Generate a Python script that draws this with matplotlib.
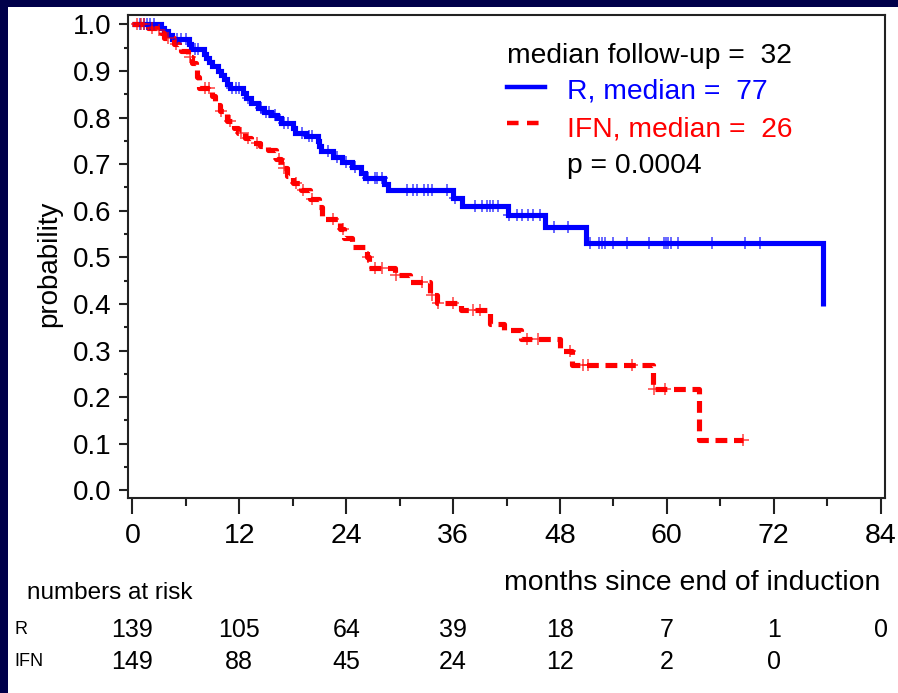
import numpy as np
import matplotlib
matplotlib.use("Agg")
import matplotlib.pyplot as plt
from matplotlib.patches import Rectangle
from matplotlib.ticker import MultipleLocator
from matplotlib.transforms import blended_transform_factory

# ---- Kaplan-Meier estimates (months, survival after each event) ----
r_event_t = [0, 3.2, 3.6, 4.0, 4.4, 6.3, 6.6, 8.0, 8.3, 8.6, 8.9, 9.6, 10.0, 10.3,
             10.6, 10.9, 12.4, 12.8, 13.3, 14.1, 14.8, 15.6, 16.2, 16.7, 18.0,
             18.2, 19.5, 20.8, 21.0, 21.2, 22.5, 23.5, 24.6, 25.7, 26.1, 28.2,
             28.7, 36.0, 37.0, 42.2, 46.3, 50.9, 77.5]
r_event_s = [1.0, 0.993, 0.986, 0.978, 0.968, 0.957, 0.946, 0.937, 0.928, 0.919,
             0.910, 0.900, 0.891, 0.882, 0.872, 0.864, 0.853, 0.841, 0.832, 0.821,
             0.811, 0.805, 0.799, 0.789, 0.778, 0.767, 0.760, 0.749, 0.738, 0.728,
             0.716, 0.704, 0.694, 0.681, 0.670, 0.657, 0.644, 0.628, 0.611, 0.591,
             0.565, 0.531, 0.396]
r_censor_t = [0.9, 1.3, 1.6, 2.0, 2.4, 5.0, 5.5, 6.0, 7.0, 7.4, 11.2, 11.6, 12.0,
              13.0, 14.4, 15.0, 15.3, 16.0, 17.0, 17.5, 19.0, 19.8, 20.2, 22.0,
              23.0, 24.0, 25.0, 26.5, 27.2, 27.5, 28.0, 30.8, 31.5, 31.9, 32.7,
              33.2, 33.6, 35.3, 36.2, 38.5, 39.2, 39.8, 40.1, 40.5, 41.0, 42.3,
              43.2, 43.7, 44.4, 45.0, 45.8, 47.3, 48.9, 51.4, 52.4, 52.7, 53.0,
              53.9, 55.5, 58.0, 59.7, 59.9, 60.1, 60.5, 61.2, 65.1, 68.8, 70.5]

ifn_event_t = [0, 1.7, 2.8, 3.2, 3.6, 4.7, 5.2, 5.5, 6.2, 6.7, 7.1, 7.3, 7.5, 8.9,
               9.3, 9.8, 10.6, 11.4, 11.8, 12.6, 13.3, 14.3, 15.2, 16.1, 16.7,
               17.3, 18.0, 18.9, 19.9, 20.9, 21.3, 23.3, 23.7, 24.6, 26.3, 26.6,
               29.5, 31.2, 33.4, 34.2, 36.9, 40.2, 41.7, 43.6, 48.0, 49.4, 58.4,
               63.6, 68.6]
ifn_event_s = [1.0, 0.992, 0.987, 0.982, 0.970, 0.957, 0.950, 0.943, 0.930, 0.918,
               0.907, 0.886, 0.864, 0.846, 0.826, 0.814, 0.792, 0.778, 0.767, 0.756,
               0.746, 0.738, 0.730, 0.710, 0.692, 0.674, 0.660, 0.645, 0.625, 0.607,
               0.583, 0.561, 0.541, 0.523, 0.500, 0.477, 0.462, 0.448, 0.420, 0.403,
               0.386, 0.358, 0.344, 0.324, 0.299, 0.269, 0.217, 0.109, 0.109]
ifn_censor_t = [0.5, 1.0, 1.3, 2.2, 3.0, 4.0, 4.9, 6.5, 8.2, 8.6, 10.0, 11.0, 12.2,
                13.0, 14.0, 16.4, 17.0, 18.4, 19.1, 20.2, 22.5, 23.6, 26.4, 27.2,
                28.0, 29.6, 32.5, 33.6, 34.3, 36.0, 38.2, 39.0, 44.3, 45.5, 49.1,
                50.6, 51.2, 56.1, 58.6, 59.8, 68.6]

# ---- numbers at risk ----
risk_times = [0, 12, 24, 36, 48, 60, 72, 84]
risk_r = ["139", "105", "64", "39", "18", "7", "1", "0"]
risk_ifn = ["149", "88", "45", "24", "12", "2", "0", ""]

legend_lines = ["median follow-up =  32", "R, median =  77",
                "IFN, median =  26", "p = 0.0004"]

BLUE = "#0000ff"
RED = "#ff0000"
NAVY = "#00004a"
W, H = 898, 693


def fx(x):
    return x / W


def fy(y):
    return 1 - y / H


def step_value(times, surv, t):
    idx = np.searchsorted(times, t, side="right") - 1
    return np.asarray(surv)[idx]


fig = plt.figure(figsize=(W / 100, H / 100), dpi=100)
fig.patch.set_facecolor(NAVY)
fig.add_artist(Rectangle((fx(8), 0), 1 - fx(8), fy(7), transform=fig.transFigure,
                         facecolor="white", edgecolor="none", zorder=-10))

ax = fig.add_axes([fx(127.7), fy(498.3), fx(885) - fx(127.7), fy(15) - fy(498.3)])
ax.set_xlim(-0.53, 84.49)
ax.set_ylim(-0.017, 1.020)

ax.plot(r_event_t, r_event_s, drawstyle="steps-post", color=BLUE, lw=3.7,
        solid_joinstyle="miter", solid_capstyle="butt", zorder=3)
ax.plot(ifn_event_t, ifn_event_s, drawstyle="steps-post", color=RED, lw=3.7,
        dashes=(2.3, 1.3), dash_capstyle="butt", zorder=3)

rc = np.array(r_censor_t)
ax.plot(rc, step_value(r_event_t, r_event_s, rc), ls="none", marker="+",
        ms=9, mew=1.1, color=BLUE, alpha=0.75, zorder=4)
ic = np.array(ifn_censor_t)
ax.plot(ic, step_value(ifn_event_t, ifn_event_s, ic), ls="none", marker="+",
        ms=9, mew=1.1, color=RED, alpha=0.75, zorder=4)

for s in ax.spines.values():
    s.set_linewidth(1.5)
    s.set_color("#222222")

ax.xaxis.set_major_locator(MultipleLocator(12))
ax.xaxis.set_minor_locator(MultipleLocator(6))
ax.yaxis.set_major_locator(MultipleLocator(0.1))
ax.yaxis.set_minor_locator(MultipleLocator(0.05))
ax.yaxis.set_major_formatter(matplotlib.ticker.FormatStrFormatter("%.1f"))

ax.tick_params(axis="x", which="major", length=11.5, width=1.5, pad=6,
               labelsize=20.5, color="#222222")
ax.tick_params(axis="x", which="minor", length=5.8, width=1.5, color="#222222")
ax.tick_params(axis="y", which="major", length=6.5, width=1.5, pad=5,
               labelsize=20, color="#222222")
ax.tick_params(axis="y", which="minor", length=3.2, width=1.5, color="#222222")

sans = ["Liberation Sans", "DejaVu Sans"]
for lab in ax.get_xticklabels() + ax.get_yticklabels():
    lab.set_family(sans)

fig.text(fx(49), fy(264), "probability", rotation=90, ha="center", va="center",
         fontsize=20, family=sans)

# legend block inside the plotting area
fig.text(fx(507), fy(62.7), legend_lines[0], fontsize=20.3, family=sans,
         color="black", va="baseline")
fig.text(fx(567), fy(99), legend_lines[1], fontsize=20.3, family=sans,
         color=BLUE, va="baseline")
fig.text(fx(567), fy(136), legend_lines[2], fontsize=20.3, family=sans,
         color=RED, va="baseline")
fig.text(fx(567), fy(172.7), legend_lines[3], fontsize=20.3, family=sans,
         color="black", va="baseline")
fig.add_artist(plt.Line2D([fx(507), fx(545)], [fy(87), fy(87)], color=BLUE,
                          lw=3.2, transform=fig.transFigure))
fig.add_artist(plt.Line2D([fx(507), fx(546)], [fy(123), fy(123)], color=RED,
                          lw=3.2, dashes=(2.6, 1.9), dash_capstyle="butt",
                          transform=fig.transFigure))

# axis title and risk table
fig.text(fx(880), fy(583), "months since end of induction", ha="right",
         va="center", fontsize=20.4, family=sans)
fig.text(fx(27), fy(593), "numbers at risk", ha="left", va="center",
         fontsize=17.5, family=sans)

trans = blended_transform_factory(ax.transData, fig.transFigure)
fig.text(fx(14), fy(630), "R", ha="left", va="center", fontsize=13, family=sans)
fig.text(fx(14), fy(662), "IFN", ha="left", va="center", fontsize=13, family=sans)
for t, a, b in zip(risk_times, risk_r, risk_ifn):
    ax.text(t, fy(630), a, transform=trans, ha="center", va="center",
            fontsize=18, family=sans, clip_on=False)
    if b:
        ax.text(t, fy(662), b, transform=trans, ha="center", va="center",
                fontsize=18, family=sans, clip_on=False)

fig.savefig("out.png", dpi=100, facecolor=fig.get_facecolor())
